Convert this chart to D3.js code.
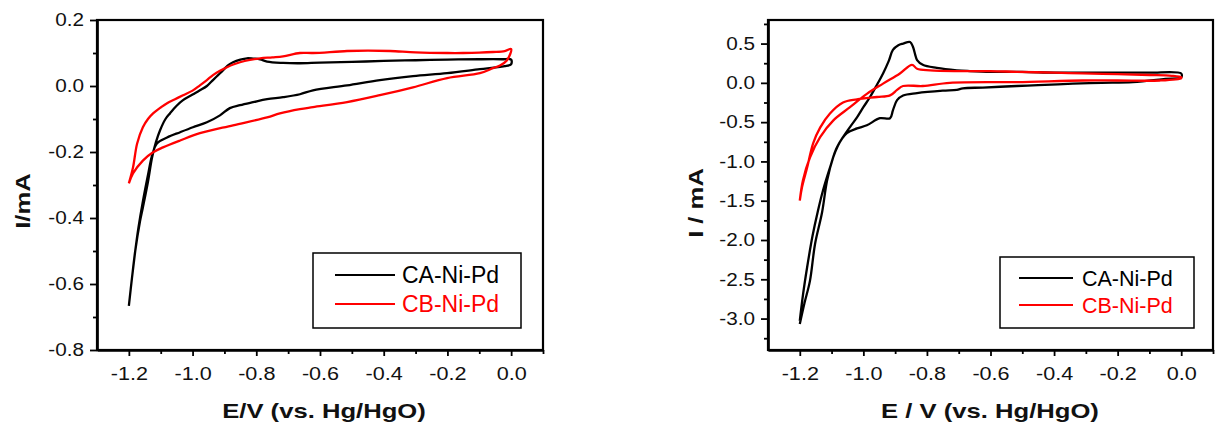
<!DOCTYPE html>
<html>
<head>
<meta charset="utf-8">
<script src="https://cdn.jsdelivr.net/npm/d3@7"></script>
<style>
  body { margin: 0; background: #fff; }
  svg text { font-family: Arial, "Liberation Sans", sans-serif; fill: #111; }
</style>
</head>
<body>
<svg id="chart" width="1215" height="423"></svg>
<script>
// ---- data (E in V, I in mA) ----
var seriesNames  = ["CA-Ni-Pd", "CB-Ni-Pd"];
var seriesColors = ["#000000", "#ff0000"];

// left panel, CA-Ni-Pd: anodic sweep -1.2 -> 0, then back
var leftCaE = [-1.2, -1.19, -1.18, -1.165, -1.156, -1.14, -1.127, -1.115, -1.102, -1.085, -1.071, -1.05, -1.03, -1.0, -0.977, -0.955, -0.936, -0.92, -0.904, -0.89, -0.873, -0.85, -0.829, -0.81, -0.788, -0.766, -0.716, -0.663, -0.6, -0.5, -0.4, -0.3, -0.2, -0.1, -0.03, 0.0,
               0.0, -0.02, -0.035, -0.098, -0.201, -0.308, -0.412, -0.515, -0.622, -0.663, -0.716, -0.766, -0.81, -0.851, -0.883, -0.914, -0.955, -0.999, -1.039, -1.08, -1.112, -1.127, -1.14, -1.156, -1.17, -1.18, -1.19, -1.2];
var leftCaI = [-0.666, -0.58, -0.5, -0.41, -0.368, -0.29, -0.216, -0.17, -0.134, -0.1, -0.083, -0.06, -0.043, -0.026, -0.013, 0.0, 0.018, 0.033, 0.048, 0.062, 0.072, 0.08, 0.084, 0.083, 0.081, 0.074, 0.07, 0.069, 0.071, 0.073, 0.076, 0.078, 0.08, 0.081, 0.081, 0.08,
               0.066, 0.06, 0.058, 0.051, 0.039, 0.03, 0.018, 0.002, -0.013, -0.025, -0.034, -0.04, -0.049, -0.058, -0.067, -0.089, -0.11, -0.125, -0.14, -0.156, -0.174, -0.21, -0.27, -0.35, -0.43, -0.5, -0.58, -0.666];

// left panel, CB-Ni-Pd
var leftCbE = [-1.2, -1.187, -1.174, -1.156, -1.14, -1.124, -1.1, -1.08, -1.055, -1.03, -1.0, -0.977, -0.955, -0.936, -0.914, -0.892, -0.87, -0.851, -0.82, -0.788, -0.75, -0.716, -0.663, -0.622, -0.515, -0.45, -0.38, -0.3, -0.2, -0.151, -0.1, -0.057, -0.02, 0.0,
               -0.013, -0.035, -0.057, -0.098, -0.201, -0.308, -0.412, -0.515, -0.622, -0.663, -0.726, -0.766, -0.873, -0.977, -1.039, -1.093, -1.124, -1.156, -1.187, -1.2];
var leftCbI = [-0.295, -0.247, -0.174, -0.125, -0.1, -0.083, -0.065, -0.052, -0.04, -0.028, -0.014, 0.002, 0.018, 0.033, 0.046, 0.057, 0.066, 0.072, 0.079, 0.084, 0.087, 0.09, 0.1, 0.1, 0.106, 0.107, 0.106, 0.102, 0.1, 0.1, 0.101, 0.103, 0.106, 0.112,
               0.078, 0.062, 0.054, 0.039, 0.024, -0.004, -0.028, -0.049, -0.064, -0.07, -0.083, -0.095, -0.119, -0.143, -0.165, -0.186, -0.201, -0.226, -0.265, -0.295];

// right panel, CA-Ni-Pd
var rightCaE = [-1.2, -1.185, -1.168, -1.152, -1.13, -1.114, -1.095, -1.08, -1.064, -1.04, -1.02, -1.0, -0.979, -0.958, -0.938, -0.92, -0.907, -0.89, -0.875, -0.853, -0.844, -0.837, -0.831, -0.813, -0.769, -0.706, -0.665, -0.6, -0.5, -0.4, -0.3, -0.2, -0.1, 0.0,
                0.0, -0.05, -0.152, -0.25, -0.341, -0.45, -0.517, -0.624, -0.687, -0.706, -0.75, -0.831, -0.875, -0.894, -0.907, -0.916, -0.948, -0.989, -1.02, -1.052, -1.083, -1.105, -1.127, -1.143, -1.16, -1.177, -1.19, -1.2];
var rightCaI = [-3.07, -2.8, -2.52, -2.05, -1.65, -1.24, -0.95, -0.8, -0.69, -0.55, -0.44, -0.31, -0.18, -0.03, 0.12, 0.28, 0.42, 0.48, 0.5, 0.52, 0.46, 0.36, 0.29, 0.23, 0.19, 0.16, 0.15, 0.14, 0.14, 0.13, 0.13, 0.13, 0.13, 0.12,
                0.07, 0.05, 0.01, 0.0, -0.01, -0.03, -0.04, -0.06, -0.07, -0.09, -0.1, -0.13, -0.16, -0.22, -0.35, -0.45, -0.45, -0.54, -0.58, -0.64, -0.82, -1.08, -1.37, -1.63, -1.95, -2.35, -2.7, -3.03];

// right panel, CB-Ni-Pd
var rightCbE = [-1.2, -1.19, -1.168, -1.136, -1.095, -1.042, -0.989, -0.938, -0.885, -0.847, -0.831, -0.79, -0.706, -0.6, -0.517, -0.4, -0.31, -0.2, -0.099, -0.03, 0.0,
                0.0, -0.067, -0.2, -0.31, -0.517, -0.728, -0.813, -0.875, -0.894, -0.916, -0.957, -1.02, -1.064, -1.105, -1.136, -1.158, -1.177, -1.193, -1.2];
var rightCbI = [-1.5, -1.24, -0.95, -0.69, -0.48, -0.31, -0.14, -0.01, 0.12, 0.23, 0.18, 0.16, 0.15, 0.15, 0.14, 0.13, 0.12, 0.11, 0.1, 0.09, 0.07,
                0.06, 0.03, 0.03, 0.03, 0.01, 0.0, -0.04, -0.04, -0.09, -0.16, -0.18, -0.21, -0.25, -0.39, -0.57, -0.77, -1.08, -1.33, -1.5];

// tick values
var xMajor      = [-1.2, -1.0, -0.8, -0.6, -0.4, -0.2, 0.0];
var xMinor      = [-1.1, -0.9, -0.7, -0.5, -0.3, -0.1, 0.1];
var leftYMajor  = [-0.8, -0.6, -0.4, -0.2, 0.0, 0.2];
var leftYMinor  = [-0.7, -0.5, -0.3, -0.1, 0.1];
var rightYMajor = [-3.0, -2.5, -2.0, -1.5, -1.0, -0.5, 0.0, 0.5];
var rightYMinor = [-3.25, -2.75, -2.25, -1.75, -1.25, -0.75, -0.25, 0.25, 0.75];


var svg = d3.select("#chart");

function zip(es, is) {
  return es.map(function (e, k) { return [e, is[k]]; });
}

// widen text along its own direction (the source font runs wide)
function stretch(sel, k) {
  sel.each(function () {
    var w = this.getComputedTextLength();
    this.setAttribute("textLength", w * k);
    this.setAttribute("lengthAdjust", "spacingAndGlyphs");
  });
}

function fmt(d) { return Math.abs(d) < 1e-9 ? "0.0" : d.toFixed(1); }

function drawPanel(p) {
  var x = d3.scaleLinear().domain([-1.3, 0.1]).range([p.left, p.right]);
  var y = d3.scaleLinear().domain(p.yDomain).range([p.bottom, p.top]);

  var g = svg.append("g");

  // frame
  g.append("rect")
    .attr("x", p.left).attr("y", p.top)
    .attr("width", p.right - p.left).attr("height", p.bottom - p.top)
    .attr("fill", "none").attr("stroke", "#000").attr("stroke-width", 2.2);

  // curves
  var line = d3.line()
    .x(function (d) { return x(d[0]); })
    .y(function (d) { return y(d[1]); })
    .curve(d3.curveCatmullRom.alpha(0.5));

  p.curves.forEach(function (c, k) {
    g.append("path")
      .datum(c)
      .attr("d", line)
      .attr("fill", "none")
      .attr("stroke", seriesColors[k])
      .attr("stroke-width", 2.3)
      .attr("stroke-linejoin", "round");
  });

  // axes
  var xAx = g.append("g").attr("transform", "translate(0," + p.bottom + ")")
    .call(d3.axisBottom(x).tickValues(xMajor).tickSize(6).tickPadding(11).tickSizeOuter(0).tickFormat(fmt));
  g.append("g").attr("transform", "translate(0," + p.bottom + ")")
    .call(d3.axisBottom(x).tickValues(xMinor).tickSize(4).tickSizeOuter(0).tickFormat(""));
  var yAx = g.append("g").attr("transform", "translate(" + p.left + ",0)")
    .call(d3.axisLeft(y).tickValues(p.yMajor).tickSize(7).tickPadding(6).tickSizeOuter(0).tickFormat(fmt));
  g.append("g").attr("transform", "translate(" + p.left + ",0)")
    .call(d3.axisLeft(y).tickValues(p.yMinor).tickSize(4).tickSizeOuter(0).tickFormat(""));

  g.selectAll(".domain").attr("stroke", "#000").attr("stroke-width", 2.2);
  g.selectAll(".tick line").attr("stroke", "#000").attr("stroke-width", 1.8);

  xAx.selectAll("text").attr("font-size", 18).attr("fill", "#111").call(stretch, 1.2);
  yAx.selectAll("text").attr("font-size", 18).attr("fill", "#111").call(stretch, 1.15);

  // axis titles
  g.append("text")
    .attr("x", p.xTitleX).attr("y", 418)
    .attr("text-anchor", "middle")
    .attr("font-size", 21).attr("font-weight", "bold")
    .text(p.xTitle)
    .call(stretch, 1.22);

  g.append("text")
    .attr("transform", "translate(" + p.yTitleX + "," + p.yTitleY + ") rotate(-90)")
    .attr("text-anchor", "middle")
    .attr("font-size", 21).attr("font-weight", "bold")
    .text(p.yTitle)
    .call(stretch, 1.22);

  // legend
  var lg = p.legend;
  g.append("rect")
    .attr("x", lg.x0).attr("y", lg.y0)
    .attr("width", lg.x1 - lg.x0).attr("height", lg.y1 - lg.y0)
    .attr("fill", "#fff").attr("stroke", "#000").attr("stroke-width", 1.5);

  seriesNames.forEach(function (name, k) {
    var ly = lg.rowY[k];
    g.append("line")
      .attr("x1", lg.lineX0).attr("x2", lg.lineX1)
      .attr("y1", ly).attr("y2", ly)
      .attr("stroke", seriesColors[k]).attr("stroke-width", 1.8);
    g.append("text")
      .attr("x", lg.textX).attr("y", ly + 8)
      .attr("font-size", lg.fontSize)
      .style("fill", seriesColors[k])
      .text(name);
  });
}

drawPanel({
  left: 97, right: 543, top: 20, bottom: 350,
  yDomain: [-0.8, 0.2],
  yMajor: leftYMajor, yMinor: leftYMinor,
  curves: [zip(leftCaE, leftCaI), zip(leftCbE, leftCbI)],
  xTitle: "E/V (vs. Hg/HgO)", xTitleX: 324,
  yTitle: "I/mA", yTitleX: 30, yTitleY: 201,
  legend: { x0: 313, x1: 521, y0: 253, y1: 328, lineX0: 335, lineX1: 395, textX: 402, rowY: [275, 304], fontSize: 23 }
});

drawPanel({
  left: 768, right: 1213, top: 20, bottom: 350,
  yDomain: [-3.4, 0.8],
  yMajor: rightYMajor, yMinor: rightYMinor,
  curves: [zip(rightCaE, rightCaI), zip(rightCbE, rightCbI)],
  xTitle: "E / V (vs. Hg/HgO)", xTitleX: 990,
  yTitle: "I / mA", yTitleX: 703, yTitleY: 203,
  legend: { x0: 1000, x1: 1194, y0: 257, y1: 328, lineX0: 1019, lineX1: 1073, textX: 1082, rowY: [278, 305], fontSize: 21.5 }
});
</script>
</body>
</html>
